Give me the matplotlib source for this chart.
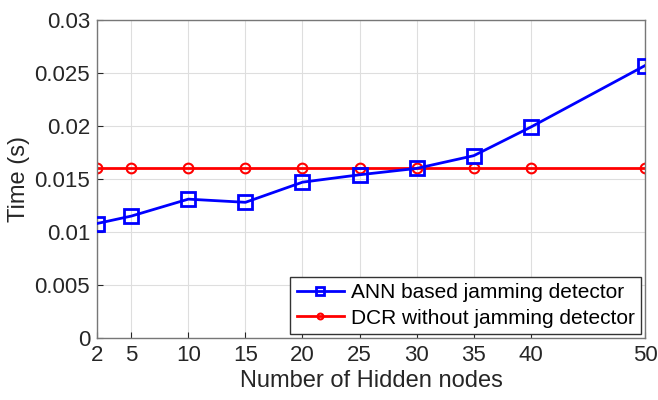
import matplotlib
matplotlib.use("Agg")
import matplotlib.pyplot as plt

hidden_nodes = [2, 5, 10, 15, 20, 25, 30, 35, 40, 50]
ann_time = [0.0108, 0.0115, 0.0131, 0.0128, 0.0147, 0.0154, 0.0160, 0.0172, 0.0199, 0.0257]
dcr_time = [0.0160] * 10
yticks = [0, 0.005, 0.01, 0.015, 0.02, 0.025, 0.03]
ytick_labels = ["0", "0.005", "0.01", "0.015", "0.02", "0.025", "0.03"]

plt.rcParams['font.family'] = ['Liberation Sans', 'DejaVu Sans']

fig = plt.figure(figsize=(6.58, 4.0), dpi=100)
ax = fig.add_axes([97/658, 62/400, (645-97)/658, (338-20)/400])

ax.plot(hidden_nodes, ann_time, color='#0000ff', lw=2, marker='s', markersize=10,
        markerfacecolor='none', markeredgewidth=2, label='ANN based jamming detector', zorder=3)
ax.plot(hidden_nodes, dcr_time, color='#ff0000', lw=2, marker='o', markersize=7,
        markerfacecolor='none', markeredgewidth=1.5, label='DCR without jamming detector', zorder=2)

ax.set_xlim(2, 50)
ax.set_ylim(0, 0.03)
ax.set_xticks(hidden_nodes)
ax.set_yticks(yticks)
ax.set_yticklabels(ytick_labels)
ax.tick_params(direction='in', labelsize=16, colors='#262626', length=4, labelcolor='#262626', pad=5)
ax.grid(True, color='#dedede', lw=0.8)
ax.set_axisbelow(True)
for s in ax.spines.values():
    s.set_color('#777777')
    s.set_linewidth(1)
ax.set_xlabel('Number of Hidden nodes', fontsize=17, color='#262626', labelpad=3)
ax.set_ylabel('Time (s)', fontsize=17, color='#262626', labelpad=3)

leg = ax.legend(loc='lower right', fontsize=15, fancybox=False, framealpha=1,
                edgecolor='#333333', borderpad=0.3, handlelength=2.3, handletextpad=0.3,
                labelspacing=0.3, borderaxespad=0.2, markerscale=0.6)
leg.get_frame().set_linewidth(1)

fig.savefig('out.png', dpi=100)
